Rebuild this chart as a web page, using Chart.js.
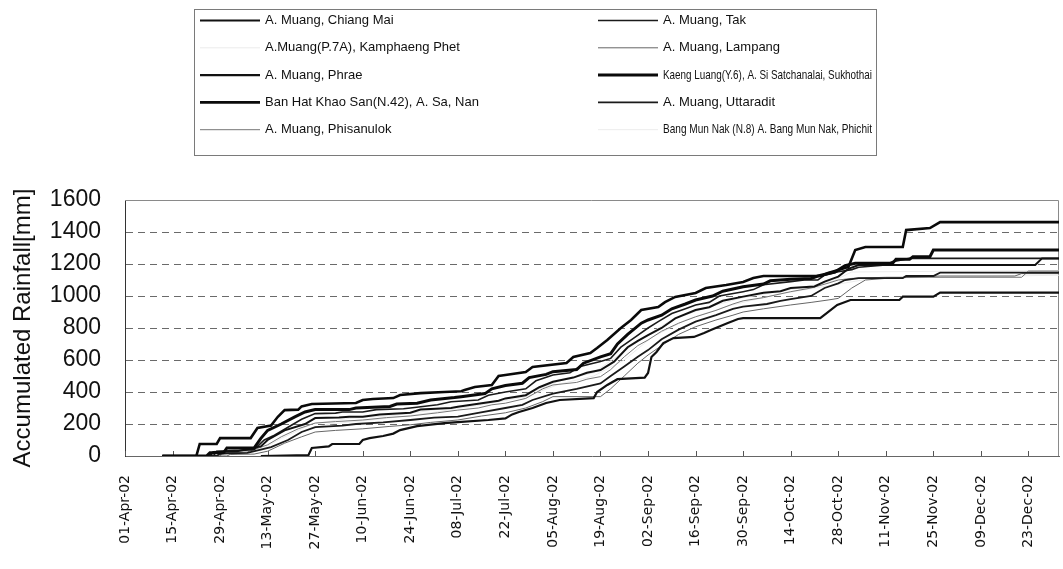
<!DOCTYPE html>
<html>
<head>
<meta charset="utf-8">
<script src="https://cdn.jsdelivr.net/npm/chart.js@4.4.1/dist/chart.umd.min.js"></script>
<style>
  html, body { margin: 0; padding: 0; background: #fff; }
  #wrap { width: 1063px; height: 569px; position: relative; }
</style>
</head>
<body>
<div id="wrap"><canvas id="c" width="1063" height="569"></canvas></div>
<script>
// Days counted from 01-Apr-2002; values are accumulated rainfall in mm.
const tickDays = [0, 14, 28, 42, 56, 70, 84, 98, 112, 126, 140, 154, 168, 182, 196, 210, 224, 238, 252, 266];
const tickLabels = ['01-Apr-02', '15-Apr-02', '29-Apr-02', '13-May-02', '27-May-02', '10-Jun-02', '24-Jun-02',
  '08-Jul-02', '22-Jul-02', '05-Aug-02', '19-Aug-02', '02-Sep-02', '16-Sep-02', '30-Sep-02', '14-Oct-02',
  '28-Oct-02', '11-Nov-02', '25-Nov-02', '09-Dec-02', '23-Dec-02'];

const stationNames = [
  'A. Muang, Chiang Mai',
  'A. Muang, Tak',
  'A.Muang(P.7A), Kamphaeng Phet',
  'A. Muang, Lampang',
  'A. Muang, Phrae',
  'Kaeng Luang(Y.6), A. Si Satchanalai, Sukhothai',
  'Ban Hat Khao San(N.42), A. Sa, Nan',
  'A. Muang, Uttaradit',
  'A. Muang, Phisanulok',
  'Bang Mun Nak (N.8) A. Bang Mun Nak, Phichit'
];

const chiangMaiDays = [11, 25, 26, 33, 40, 42, 47, 53, 56, 63, 66, 70, 75, 84, 87, 96, 98, 105, 110, 112, 118, 122, 126, 132, 136, 140, 144, 148, 151, 154, 158, 162, 168, 172, 176, 182, 188, 193, 196, 203, 206, 210, 213, 216, 268, 270, 275];
const chiangMaiMm   = [0, 0, 25, 30, 60, 100, 160, 200, 237, 240, 245, 245, 260, 270, 290, 300, 308, 330, 345, 360, 380, 430, 464, 490, 520, 537, 590, 680, 720, 756, 800, 860, 912, 930, 970, 996, 1020, 1030, 1050, 1060, 1090, 1121, 1170, 1194, 1194, 1235, 1235];

const takDays = [11, 26, 27, 34, 38, 41, 44, 48, 52, 56, 62, 64, 70, 74, 82, 84, 92, 96, 104, 107, 112, 118, 121, 126, 131, 134, 140, 143, 146, 150, 154, 157, 161, 165, 168, 172, 175, 182, 185, 188, 196, 200, 204, 206, 210, 214, 216, 224, 226, 231, 275];
const takMm   = [0, 0, 30, 35, 40, 100, 130, 180, 230, 265, 268, 275, 275, 290, 295, 300, 320, 339, 350, 380, 400, 420, 470, 506, 520, 560, 590, 610, 680, 740, 800, 840, 890, 920, 944, 960, 1000, 1027, 1040, 1070, 1090, 1100, 1100, 1130, 1152, 1165, 1180, 1194, 1215, 1235, 1235];

const kamphaengDays = [11, 27, 28, 40, 46, 55, 66, 80, 95, 108, 120, 128, 138, 146, 152, 160, 170, 182, 196, 208, 214, 275];
const kamphaengMm   = [0, 0, 20, 40, 110, 200, 235, 255, 300, 335, 400, 470, 520, 640, 730, 840, 920, 990, 1040, 1090, 1150, 1160];

const lampangDays = [11, 30, 31, 38, 42, 47, 52, 56, 62, 70, 78, 84, 90, 98, 105, 112, 118, 123, 126, 140, 143, 147, 151, 154, 158, 163, 168, 174, 179, 182, 188, 196, 202, 207, 210, 214, 218, 224, 240, 262, 264, 275];
const lampangMm   = [0, 0, 10, 12, 30, 80, 120, 150, 160, 170, 185, 195, 210, 225, 250, 270, 300, 340, 371, 371, 420, 500, 580, 631, 690, 760, 808, 850, 880, 900, 920, 944, 960, 975, 985, 1050, 1100, 1110, 1125, 1125, 1140, 1140];

const phraeDays = [40, 54, 55, 60, 61, 69, 70, 72, 76, 79, 81, 86, 94, 98, 107, 112, 114, 116, 120, 124, 128, 138, 139, 142, 145, 153, 154, 155, 156.5, 158.5, 161.5, 167.5, 170.5, 172.5, 177.5, 180.5, 182, 204.7, 206.7, 209.7, 213.6, 228, 229, 238, 240, 275];
const phraeMm   = [0, 5, 50, 60, 75, 75, 100, 112, 125, 140, 162, 187, 206, 212, 225, 235, 260, 275, 300, 331, 350, 362, 400, 444, 480, 490, 519, 619, 650, 706, 737, 744, 769, 787, 831, 856, 862, 862, 894, 944, 975, 975, 996, 996, 1021, 1021];

const kaengLuangDays = [11, 24, 25, 29, 30, 38, 40, 42, 46, 50, 53, 56, 66, 68, 78, 80, 86, 90, 97, 99, 106, 108, 112, 117, 119, 124, 126, 133, 135, 140, 143, 145, 148, 152, 154, 158, 161, 165, 168, 173, 176, 182, 188, 190, 196, 202, 204, 209, 212, 215, 226, 227, 231, 232, 237, 238, 275];
const kaengLuangMm   = [0, 0, 20, 20, 50, 50, 110, 160, 200, 245, 275, 290, 290, 300, 310, 325, 330, 350, 365, 371, 390, 420, 440, 455, 490, 510, 527, 540, 580, 620, 640, 700, 760, 830, 850, 880, 920, 950, 975, 1000, 1030, 1058, 1075, 1095, 1104, 1110, 1125, 1150, 1190, 1204, 1204, 1229, 1229, 1246, 1246, 1287, 1287];

const banHatDays = [11, 21, 22, 27, 28, 37, 39, 43, 45, 47, 51, 52, 55, 68, 70, 73, 79, 81, 87, 94, 99, 100, 103, 108, 110, 112, 118, 120, 130, 132, 137, 139, 142, 146, 149, 152, 157, 159, 162, 168, 171, 177, 182, 185, 188, 205, 207, 210, 213, 215, 218, 229, 230, 237, 240, 275];
const banHatMm   = [0, 0, 75, 75, 112, 112, 175, 190, 245, 287, 290, 310, 325, 331, 350, 356, 362, 381, 393, 400, 405, 412, 431, 444, 500, 506, 525, 556, 581, 619, 644, 675, 725, 800, 850, 912, 931, 962, 994, 1019, 1050, 1069, 1088, 1112, 1125, 1125, 1144, 1162, 1181, 1287, 1306, 1306, 1412, 1425, 1462, 1462];

const uttaraditDays = [11, 27, 28, 36, 40, 43, 48, 52, 56, 64, 68, 76, 84, 91, 98, 104, 112, 117, 120, 126, 133, 140, 143, 147, 151, 154, 158, 163, 168, 174, 179, 182, 189, 193, 196, 202, 206, 210, 212, 216, 229, 230, 238, 240, 275];
const uttaraditMm   = [0, 0, 15, 20, 40, 55, 100, 150, 181, 190, 200, 210, 225, 240, 246, 270, 300, 320, 350, 390, 420, 454, 500, 560, 620, 662, 730, 790, 840, 880, 920, 933, 950, 970, 980, 1000, 1050, 1079, 1100, 1112, 1112, 1125, 1125, 1146, 1146];

const phisanulokDays = [11, 28, 29, 36, 42, 46, 51, 56, 62, 70, 77, 84, 92, 98, 104, 108, 112, 118, 123, 126, 133, 136, 140, 143, 147, 151, 154, 158, 163, 168, 174, 179, 182, 188, 196, 202, 207, 210, 214, 224, 264, 266, 275];
const phisanulokMm   = [0, 0, 20, 25, 70, 120, 170, 206, 215, 225, 240, 250, 270, 287, 300, 320, 330, 360, 420, 444, 460, 480, 496, 540, 620, 690, 725, 780, 830, 870, 910, 950, 970, 990, 1027, 1050, 1080, 1100, 1110, 1117, 1117, 1156, 1156];

const bangMunNakDays = [11, 29, 30, 44, 52, 60, 75, 90, 105, 118, 128, 138, 147, 155, 165, 178, 192, 206, 220, 275];
const bangMunNakMm   = [0, 0, 15, 60, 150, 200, 230, 270, 320, 370, 450, 500, 600, 740, 850, 940, 1010, 1060, 1110, 1130];

const seriesDays = [chiangMaiDays, takDays, kamphaengDays, lampangDays, phraeDays, kaengLuangDays, banHatDays, uttaraditDays, phisanulokDays, bangMunNakDays];
const seriesMm   = [chiangMaiMm, takMm, kamphaengMm, lampangMm, phraeMm, kaengLuangMm, banHatMm, uttaraditMm, phisanulokMm, bangMunNakMm];

const lineColors = ['#111', '#1a1a1a', '#ececec', '#666', '#111', '#0a0a0a', '#0a0a0a', '#1a1a1a', '#777', '#ececec'];
const lineWidths = [2, 1.6, 1, 1, 2.2, 3, 2.6, 1.8, 1, 1];
const drawOrder  = [2, 2, 9, 3, 2, 1, 1, 2, 3, 9];

const datasets = stationNames.map((name, i) => ({
  label: name,
  data: seriesDays[i].map((d, k) => ({ x: d, y: seriesMm[i][k] })),
  borderColor: lineColors[i],
  borderWidth: lineWidths[i],
  order: drawOrder[i],
  pointRadius: 0,
  tension: 0,
  fill: false,
  borderJoinStyle: 'miter'
}));

const FONT = "'Liberation Sans', Arial, sans-serif";

// Plot frame and inside tick marks on the date axis
const framePlugin = {
  id: 'frame',
  beforeDatasetsDraw(chart) {
    const { ctx, chartArea: a, scales } = chart;
    ctx.save();
    ctx.strokeStyle = '#8a8a8a';
    ctx.lineWidth = 1;
    ctx.beginPath();
    ctx.moveTo(a.left, a.top + 0.5);
    ctx.lineTo(a.right - 0.5, a.top + 0.5);
    ctx.lineTo(a.right - 0.5, a.bottom);
    ctx.stroke();
    ctx.strokeStyle = '#555';
    tickDays.forEach(d => {
      const x = Math.round(scales.x.getPixelForValue(d)) + 0.5;
      ctx.beginPath();
      ctx.moveTo(x, a.bottom);
      ctx.lineTo(x, a.bottom - 5);
      ctx.stroke();
    });
    ctx.restore();
  }
};

// Two-column boxed legend above the plot; long names are squeezed to stay inside the box
const boxLegendPlugin = {
  id: 'boxLegend',
  afterDraw(chart) {
    const ctx = chart.ctx;
    ctx.save();
    ctx.strokeStyle = '#7a7a7a';
    ctx.lineWidth = 1;
    ctx.strokeRect(194.5, 9.5, 682, 146);
    ctx.font = '13px ' + FONT;
    ctx.fillStyle = '#111';
    ctx.textBaseline = 'middle';
    chart.data.datasets.forEach((ds, i) => {
      const col = i % 2;
      const row = Math.floor(i / 2);
      const y = 20.5 + row * 27.3;
      const x0 = col ? 598 : 200;
      ctx.beginPath();
      ctx.moveTo(x0, y);
      ctx.lineTo(x0 + 60, y);
      ctx.strokeStyle = ds.borderColor;
      ctx.lineWidth = ds.borderWidth;
      ctx.stroke();
      const tx = x0 + 65;
      const w = ctx.measureText(ds.label).width;
      const room = 872 - tx;
      ctx.save();
      ctx.translate(tx, y);
      if (col && w > room) ctx.scale(room / w, 1);
      ctx.fillText(ds.label, 0, 0);
      ctx.restore();
    });
    ctx.restore();
  }
};

new Chart(document.getElementById('c'), {
  type: 'line',
  data: { datasets },
  plugins: [framePlugin, boxLegendPlugin],
  options: {
    responsive: false,
    animation: false,
    devicePixelRatio: 1,
    layout: { padding: { top: 200, right: 4, left: 0, bottom: 0 } },
    plugins: { legend: { display: false }, tooltip: { enabled: false } },
    scales: {
      x: {
        type: 'linear',
        min: 0,
        max: 275,
        afterBuildTicks(scale) { scale.ticks = tickDays.map(v => ({ value: v })); },
        afterFit(scale) { scale.height = 113; },
        grid: { display: false },
        border: { display: true, color: '#666', width: 1 },
        ticks: {
          minRotation: 90,
          maxRotation: 90,
          autoSkip: false,
          padding: 11,
          color: '#111',
          font: { family: "'DejaVu Sans', sans-serif", size: 14 },
          callback: (v, i) => tickLabels[i]
        }
      },
      y: {
        min: 0,
        max: 1600,
        afterFit(scale) { scale.width = 125; },
        ticks: {
          stepSize: 200,
          padding: 24,
          color: '#111',
          font: { family: FONT, size: 23 },
          callback: v => String(v)
        },
        grid: {
          drawTicks: false,
          color: c => (c.tick && (c.tick.value === 0 || c.tick.value === 1600)) ? 'rgba(0,0,0,0)' : '#6a6a6a',
          lineWidth: 1
        },
        border: { display: true, color: '#333', width: 1, dash: [7, 5] },
        title: {
          display: true,
          text: 'Accumulated Rainfall[mm]',
          color: '#111',
          font: { family: FONT, size: 24 },
          padding: { top: 9, bottom: 0 }
        }
      }
    }
  }
});
</script>
</body>
</html>
